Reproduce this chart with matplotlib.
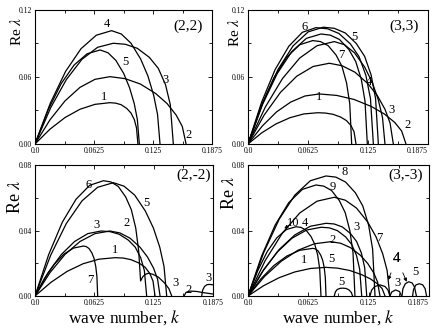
import matplotlib
matplotlib.use("Agg")
import matplotlib.pyplot as plt
from matplotlib.ticker import MultipleLocator

plt.rcParams["font.family"] = ["Liberation Serif", "DejaVu Serif"]
plt.rcParams["mathtext.fontset"] = "stix"

# wave numbers of the x ticks
k_ticks = [0.0, 0.0625, 0.125, 0.1875]
k_tick_labels = ["0.0", "0.0625", "0.125", "0.1875"]
top_ticks = [0.0, 0.06, 0.12]
top_tick_labels = ["0.00", "0.06", "0.12"]
bot_ticks = [0.0, 0.04, 0.08]
bot_tick_labels = ["0.00", "0.04", "0.08"]

# (2,2) branches: (k, Re lambda)
tl_curves = [
    ([0, .0159, .0318, .0476, .0635, .0794, .0853, .0912, .0972, .1016, .1052, .1075, .109],
     [0, .0133, .0237, .0311, .0355, .037, .0366, .0352, .0318, .0278, .0218, .0144, 0]),
    ([0, .0159, .0318, .0476, .0635, .0794, .0955, .1116, .1278, .1399, .1495, .1560, .160],
     [0, .0217, .0386, .0507, .0579, .0603, .0585, .0537, .0452, .0362, .0259, .0157, 0]),
    ([0, .0166, .0332, .0497, .0663, .0829, .0956, .1083, .1211, .1306, .1382, .1433, .1465],
     [0, .0325, .0577, .0758, .0866, .0902, .0893, .0857, .0776, .0677, .0532, .0352, 0]),
    ([0, .0162, .0324, .0487, .0649, .0811, .0914, .1016, .1119, .1196, .1257, .1298, .1324],
     [0, .0365, .065, .0853, .0974, .1015, .0985, .0903, .0761, .0609, .0436, .0264, 0]),
    ([0, .0138, .0276, .0414, .0552, .069, .0773, .0856, .0939, .1001, .1051, .1084, .1105],
     [0, .0303, .0539, .0707, .0808, .0842, .0817, .0749, .0632, .0505, .0362, .0219, 0]),
]
tl_labels = [("4", .0766, .1075), ("5", .0953, .0737), ("3", .1384, .0573),
             ("1", .0734, .0424), ("2", .1624, .0081)]

# (3,3) branches
tr_curves = [
    ([0, .0142, .0283, .0425, .0566, .0708, .0828, .0947, .1067, .1157, .1228, .1276, .1306],
     [0, .0375, .0667, .0875, .1, .1042, .1032, .099, .0896, .0782, .0615, .0406, 0]),
    ([0, .0157, .0314, .047, .0627, .0784, .0899, .1014, .1128, .1215, .1283, .1329, .1358],
     [0, .0377, .0669, .0879, .1004, .1046, .1036, .0994, .09, .0785, .0617, .0408, 0]),
    ([0, .0135, .027, .0404, .0539, .0674, .0755, .0836, .0918, .0979, .1027, .1060, .108],
     [0, .0333, .0593, .0778, .0889, .0926, .0917, .088, .0796, .0695, .0546, .0361, 0]),
    ([0, .018, .036, .0539, .0719, .0899, .1005, .111, .1216, .1295, .1358, .1401, .1427],
     [0, .033, .0587, .077, .088, .0917, .0889, .0816, .0688, .055, .0394, .0238, 0]),
    ([0, .0169, .0339, .0508, .0678, .0847, .098, .1114, .1247, .1347, .1427, .148, .1514],
     [0, .026, .0463, .0607, .0694, .0723, .0701, .0643, .0542, .0434, .0311, .0188, 0]),
    ([0, .0149, .0297, .0446, .0594, .0743, .0924, .1104, .1285, .142, .1529, .1601, .1646],
     [0, .0161, .0287, .0376, .043, .0448, .0435, .0399, .0336, .0269, .0193, .0116, 0]),
    ([0, .0145, .029, .0436, .0581, .0726, .0806, .0886, .0965, .1025, .1073, .1105, .1125],
     [0, .0101, .0179, .0235, .0269, .028, .0277, .0266, .0241, .021, .0165, .0109, 0]),
    ([0, .0152, .0304, .0456, .0608, .076, .0857, .0953, .105, .1122, .118, .1219, .1243],
     [0, .0355, .063, .0827, .0946, .0985, .0975, .0936, .0847, .0739, .0581, .0384, 0]),
]
tr_labels = [("6", .0587, .1051), ("5", .1107, .0956), ("7", .0969, .0797),
             ("4", .1264, .0558), ("1", .0743, .0424), ("3", .149, .0305),
             ("2", .1664, .017)]

# (2,-2) branches
bl_curves = [
    ([0, .0102, .0204, .0305, .0407, .0509, .0539, .0569, .06, .0622, .0640, .0652, .066],
     [0, .011, .0195, .0256, .0293, .0305, .0302, .029, .0262, .0229, .018, .0119, 0]),
    ([0, .0144, .0288, .0432, .0576, .072, .0798, .0877, .0955, .1014, .1061, .1092, .1112,
      .1135, .1165, .1194, .124, .130, .136, .141, .144],
     [0, .0253, .0451, .0591, .0676, .0704, .0697, .0669, .0605, .0528, .0415, .0275, .0092,
      .0118, .0133, .0139, .0133, .0115, .0082, .0045, 0]),
    ([0, .0165, .033, .0495, .066, .0825, .0937, .105, .1162, .1247, .1314, .1359, .1387],
     [0, .0249, .0443, .0581, .0664, .0692, .0671, .0616, .0519, .0415, .0298, .018, 0]),
    ([0, .0139, .0278, .0417, .0556, .0695, .0791, .0887, .0984, .1056, .1113, .1152, .1176],
     [0, .0143, .0254, .0333, .0381, .0397, .0393, .0377, .0341, .0298, .0234, .0155, 0]),
    ([0, .0158, .0316, .0474, .0632, .079, .0895, .1001, .1106, .1185, .1248, .1291, .1317],
     [0, .0143, .0254, .0333, .0381, .0397, .0385, .0353, .0298, .0238, .0171, .0103, 0]),
    ([0, .0169, .0337, .0506, .0674, .0843, .0927, .1011, .1096, .1159, .1209, .1243, .1264],
     [0, .0084, .015, .0197, .0225, .0234, .0232, .0222, .0201, .0176, .0138, .0091, 0]),
    ([.157, .159, .163, .170, .178, .1875],
     [0, .0022, .0030, .0028, .0020, .0012]),
    ([.1756, .1765, .1785, .181, .184, .1875],
     [0, .0035, .0058, .0069, .0071, .0068]),
]
bl_labels = [("6", .0562, .0678), ("5", .1177, .0566), ("3", .065, .0434),
             ("2", .0966, .0444), ("1", .0843, .0281), ("7", .0579, .0098),
             ("3", .1475, .0078), ("2", .1615, .0037), ("3", .1826, .0108)]

# (3,-3) branches
br_curves = [
    ([0, .0162, .0323, .0485, .0646, .0808, .091, .1011, .1113, .1189, .1250, .1291, .1316],
     [0, .0264, .0469, .0616, .0704, .0733, .0726, .0696, .063, .055, .0432, .0286, 0]),
    ([0, .0141, .0282, .0422, .0563, .0704, .0785, .0866, .0946, .1007, .1055, .1088, .1108],
     [0, .0244, .0434, .057, .0651, .0678, .0671, .0644, .0583, .0509, .04, .0264, 0]),
    ([0, .0179, .0358, .0536, .0715, .0894, .1009, .1124, .124, .1326, .1395, .1441, .147],
     [0, .0217, .0386, .0507, .0579, .0603, .0585, .0537, .0452, .0362, .0259, .0157, 0]),
    ([0, .0162, .0323, .0485, .0646, .0808, .0892, .0977, .1061, .1125, .1175, .1209, .123],
     [0, .016, .0284, .0373, .0426, .0444, .044, .0422, .0382, .0333, .0262, .0173, 0]),
    ([0, .0152, .0304, .0456, .0608, .076, .0844, .0927, .1011, .1074, .1124, .1157, .1178],
     [0, .0151, .0269, .0353, .0403, .042, .0416, .0399, .0361, .0315, .0248, .0164, 0]),
    ([0, .0172, .0344, .0516, .0688, .086, .0961, .1063, .1164, .124, .1301, .1342, .1367],
     [0, .012, .0212, .0279, .0319, .0332, .0322, .0295, .0249, .0199, .0143, .0086, 0]),
    ([0, .0134, .0268, .0402, .0536, .067, .0698, .0725, .0753, .0774, .079, .0801, .0808],
     [0, .0105, .0186, .0244, .0279, .0291, .0288, .0276, .025, .0218, .0172, .0113, 0]),
    ([0, .0162, .0323, .0485, .0646, .0808, .093, .1053, .1175, .1267, .134, .1389, .142],
     [0, .0063, .0112, .0147, .0168, .0175, .017, .0156, .0131, .0105, .0075, .0046, 0]),
    ([0, .0099, .0199, .0298, .0398, .0497, .0549, .0601, .0652, .0691, .0722, .0743, .0756],
     [0, .0152, .0271, .0355, .0406, .0423, .0419, .0402, .0364, .0317, .025, .0165, 0]),
    ([.0894, .0905, .0925, .0955, .0985, .1015, .1045, .107, .1084],
     [0, .0025, .0040, .0047, .0048, .0046, .0038, .0022, 0]),
    ([.1264, .128, .131, .1367, .142, .145, .147],
     [0, .0035, .0057, .0068, .0058, .0037, 0]),
    ([.147, .149, .153, .157, .159],
     [0, .0025, .0037, .0027, 0]),
    ([.1595, .1605, .163, .1665, .170, .1725, .1745],
     [0, .0045, .0075, .0087, .008, .0055, 0]),
    ([.1705, .1715, .174, .1775, .181, .1835, .185],
     [0, .004, .0068, .0075, .0068, .0045, 0]),
]
br_labels = [("8", .0998, .0759), ("9", .0877, .0664), ("3", .1119, .0423),
             ("7", .136, .0352), ("2", .0877, .0342), ("5", .086, .0226),
             ("1", .0583, .022), ("4", .0594, .0448), ("5", .0963, .0087),
             ("3", .1547, .0081), ("5", .173, .0149)]

fig = plt.figure(figsize=(4.36, 3.32), dpi=100)
axes = [
    fig.add_axes([0.0803, 0.5663, 0.406, 0.4036]),
    fig.add_axes([0.5688, 0.5663, 0.4128, 0.4036]),
    fig.add_axes([0.0803, 0.1084, 0.4083, 0.3946]),
    fig.add_axes([0.5688, 0.1084, 0.4151, 0.3946]),
]
panels = [
    (tl_curves, tl_labels, "(2,2)", (.1624, .1057), True),
    (tr_curves, tr_labels, "(3,3)", (.1628, .1057), True),
    (bl_curves, bl_labels, "(2,-2)", (.1668, .0739), False),
    (br_curves, br_labels, "(3,-3)", (.1637, .0739), False),
]
ylab_pos = [(-0.105, 0.84), (-0.075, 0.83), (-0.11, 0.76), (-0.10, 0.79)]

for i, (ax, (curves, labels, name, name_xy, top)) in enumerate(zip(axes, panels)):
    for k, v in curves:
        ax.plot(k, v, color="black", lw=0.9)
    for txt, x, y in labels:
        ax.text(x, y, txt, fontsize=9, ha="center", va="center")
    ax.text(name_xy[0], name_xy[1], name, fontsize=11, ha="center", va="center")
    ax.set_xlim(0, 0.1875)
    ax.set_xticks(k_ticks)
    ax.set_xticklabels(k_tick_labels)
    ax.xaxis.set_minor_locator(MultipleLocator(0.03125))
    if top:
        ax.set_ylim(0, 0.12)
        ax.set_yticks(top_ticks)
        ax.set_yticklabels(top_tick_labels)
        ax.yaxis.set_minor_locator(MultipleLocator(0.03))
    else:
        ax.set_ylim(0, 0.08)
        ax.set_yticks(bot_ticks)
        ax.set_yticklabels(bot_tick_labels)
        ax.yaxis.set_minor_locator(MultipleLocator(0.02))
        ax.set_xlabel("wave number, $k$", fontsize=12.5, labelpad=1)
    ax.tick_params(which="both", direction="in", top=True, right=True,
                   labelsize=5.5, pad=2, width=0.6)
    ax.tick_params(which="major", length=3)
    ax.tick_params(which="minor", length=2)
    if i % 2 == 1:
        ax.get_xticklabels()[-1].set_horizontalalignment("right")
        ax.get_xticklabels()[-1].set_x(0.1875)
    for s in ax.spines.values():
        s.set_linewidth(0.8)
    ax.text(ylab_pos[i][0], ylab_pos[i][1], r"Re $\lambda$", rotation=90,
            fontsize=11 if top else 13, ha="center", va="center",
            transform=ax.transAxes)

# arrows in the (3,-3) panel
br = axes[3]
br.annotate("10", xy=(.0376, .0413), xytext=(.0463, .0444), fontsize=9,
            ha="center", va="center",
            arrowprops=dict(arrowstyle="-|>", lw=0.6, color="black",
                            mutation_scale=5, shrinkA=3, shrinkB=0))
for target in [(.1453, .0098), (.1644, .0087)]:
    br.annotate("4", xy=target, xytext=(.154, .023), fontsize=11,
                ha="center", va="center",
                arrowprops=dict(arrowstyle="-|>", lw=0.6, color="black",
                                mutation_scale=5, shrinkA=4, shrinkB=0))

fig.savefig("out.png", dpi=100)
